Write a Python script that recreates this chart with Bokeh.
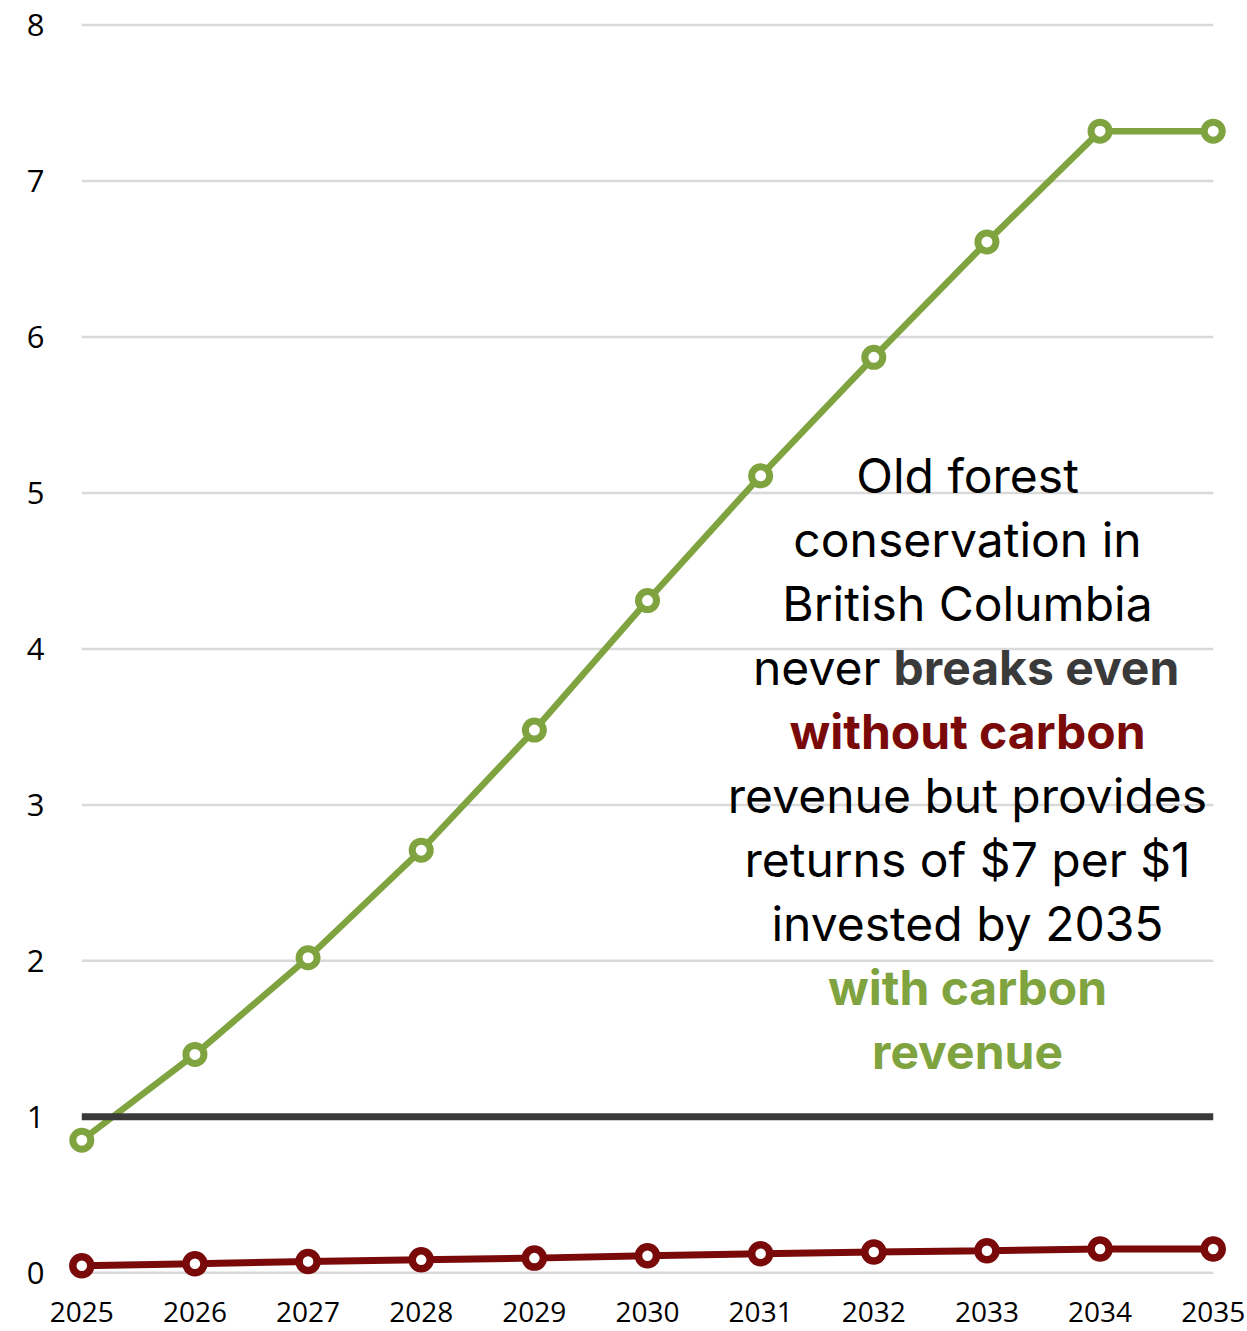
from bokeh.plotting import figure
from bokeh.models import Range1d, FixedTicker
from bokeh.core.properties import value
from bokeh.embed import file_html
from bokeh.resources import INLINE

# ---- data ----
years = [2025, 2026, 2027, 2028, 2029, 2030, 2031, 2032, 2033, 2034, 2035]
with_carbon = [0.85, 1.40, 2.02, 2.71, 3.48, 4.31, 5.11, 5.87, 6.61, 7.32, 7.32]
without_carbon = [0.045, 0.058, 0.072, 0.083, 0.094, 0.109, 0.122, 0.133, 0.141, 0.152, 0.152]
break_even_level = 1
y_ticks = [0, 1, 2, 3, 4, 5, 6, 7, 8]

GREEN = "#7ea33f"
RED = "#7a0a0a"
DARK = "#3a3a3a"
GRID = "#d9d9d9"

# ---- frame geometry ----
FL, FW, FT, FH = 53, 1188, 9, 1282
X0, X1, Y0, Y1 = 2024.75, 2035.25, -0.12, 8.1


def px_x(px):
    return X0 + (px - FL) * (X1 - X0) / FW


def px_y(py):
    return Y1 - (py - FT) * (Y1 - Y0) / FH


p = figure(frame_width=FW, frame_height=FH,
           x_range=Range1d(X0, X1), y_range=Range1d(Y0, Y1),
           output_backend="svg", toolbar_location=None,
           min_border_left=FL, min_border_right=6,
           min_border_top=FT, min_border_bottom=40)
p.outline_line_color = None
p.background_fill_color = "white"
p.border_fill_color = "white"
p.xgrid.visible = False
p.ygrid.visible = False

p.xaxis.ticker = FixedTicker(ticks=years)
p.yaxis.ticker = FixedTicker(ticks=y_ticks)
for ax in p.axis:
    ax.axis_line_color = None
    ax.major_tick_line_color = None
    ax.minor_tick_line_color = None
    ax.major_tick_out = 0
    ax.major_tick_in = 0
    ax.minor_tick_out = 0
    ax.minor_tick_in = 0
    ax.major_label_text_font = "Open Sans"
    ax.major_label_text_color = "black"
p.xaxis.major_label_text_font_size = "28px"
p.xaxis.major_label_standoff = 10
p.yaxis.major_label_text_font_size = "31px"
p.yaxis.major_label_standoff = 9

# gridlines spanning first to last year
p.segment(x0=[years[0]] * len(y_ticks), x1=[years[-1]] * len(y_ticks),
          y0=y_ticks, y1=y_ticks, line_color=GRID, line_width=2.5)

# series
p.line(years, without_carbon, line_color=RED, line_width=7)
p.scatter(years, without_carbon, marker="circle", size=18, fill_color="white",
          line_color=RED, line_width=7.5)

p.line(years, with_carbon, line_color=GREEN, line_width=6.5)
p.scatter(years, with_carbon, marker="circle", size=18, fill_color="white",
          line_color=GREEN, line_width=7)

p.line([years[0], years[-1]], [break_even_level, break_even_level],
       line_color=DARK, line_width=7)

# ---- annotation ----
FONT = "Inter"
FS = "48px"
cx = px_x(967)
lines = [
    ("Old forest", "black", "normal"),
    ("conservation in", "black", "normal"),
    ("British Columbia", "black", "normal"),
    None,
    ("without carbon", RED, "bold"),
    ("revenue but provides", "black", "normal"),
    ("returns of $7 per $1", "black", "normal"),
    ("invested by 2035", "black", "normal"),
    ("with carbon", GREEN, "bold"),
    ("revenue", GREEN, "bold"),
]
for i, item in enumerate(lines):
    by = px_y(474.5 + 64 * i)
    if item is None:
        p.text(x=[px_x(880)], y=[by], text=["never"], text_align="right",
               text_baseline="alphabetic", text_font=value(FONT),
               text_font_size=FS, text_color="black")
        p.text(x=[px_x(893)], y=[by], text=["breaks even"], text_align="left",
               text_baseline="alphabetic", text_font=value(FONT),
               text_font_size=FS, text_color=DARK, text_font_style="bold")
        continue
    t, c, s = item
    p.text(x=[cx], y=[by], text=[t], text_align="center",
           text_baseline="alphabetic", text_font=value(FONT),
           text_font_size=FS, text_color=c, text_font_style=s)

open("out.html", "w").write(file_html(p, INLINE))
